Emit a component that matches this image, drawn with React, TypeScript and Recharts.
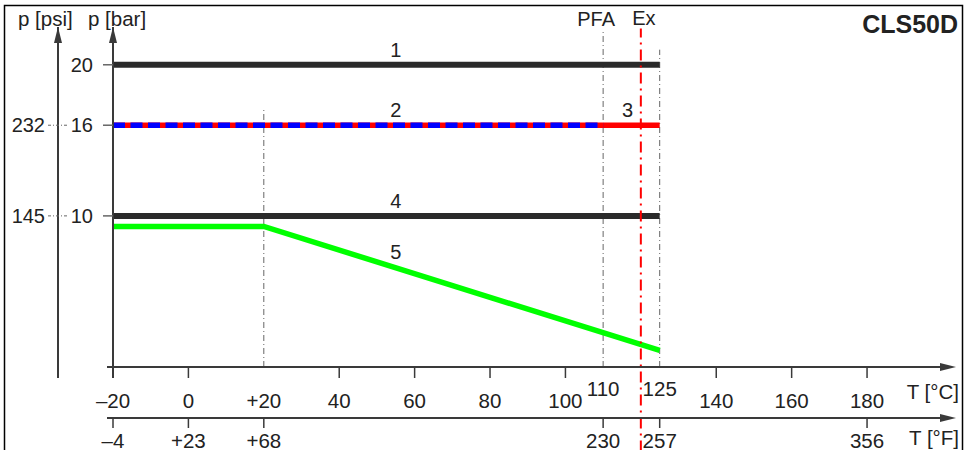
import React from "react";
import {
  ComposedChart,
  Line,
  XAxis,
  YAxis,
  ReferenceLine,
  ReferenceDot,
  Customized,
} from "recharts";

// temperature axis (°C) and matching °F labels
const C_TICKS = [-20, 0, 20, 40, 60, 80, 100, 110, 125, 140, 160, 180];
const C_LABELS = ["–20", "0", "+20", "40", "60", "80", "100", "110", "125", "140", "160", "180"];
const F_TICKS = [-20, 0, 20, 110, 125, 180];
const F_LABELS = ["–4", "+23", "+68", "230", "257", "356"];

// pressure axes
const BAR_TICKS = [10, 16, 20];
const PSI_TICKS = [10, 16];
const PSI_LABELS = ["145", "232"];

// curves: temperature [°C] / pressure [bar]
const line1T = [-20, 125];
const line1P = [20, 20];
const line2T = [-20, 110];
const line2P = [16, 16];
const line3T = [-20, 125];
const line3P = [16, 16];
const line4T = [-20, 125];
const line4P = [10, 10];
const line5T = [-20, 20, 125];
const line5P = [9.3, 9.3, 1.1];

const toRows = (t: number[], p: number[]) => t.map((v, i) => ({ t: v, p: p[i] }));

const FONT = "'Liberation Sans', Arial, sans-serif";
const TEXT = "#222";
const AXIS = "#3a3a3a";
const GUIDE = "#666";
const BLACK = "#2a2a2a";

const W = 966;
const H = 450;
const PLOT_LEFT = 113;
const PLOT_RIGHT = 950;
const PLOT_TOP = 27;
const C_AXIS_Y = 367;
const F_AXIS_Y = 418;
const PSI_X = 58;

const RAISED = [110, 125];
const NO_TICK = [20, 110, 125];

function CTick({ x, y, payload }: any) {
  const v = payload.value;
  const i = C_TICKS.indexOf(v);
  const raised = RAISED.includes(v);
  return (
    <g>
      {!NO_TICK.includes(v) && (
        <line x1={x} x2={x} y1={y} y2={y + 11} stroke={AXIS} strokeWidth={1.5} />
      )}
      <text x={x} y={raised ? y + 29 : y + 41} textAnchor="middle" fontSize={20.5} fill={TEXT} fontFamily={FONT}>
        {C_LABELS[i]}
      </text>
    </g>
  );
}

function FTick({ x, y, payload }: any) {
  const i = F_TICKS.indexOf(payload.value);
  return (
    <g>
      <line x1={x} x2={x} y1={y} y2={y + 10} stroke={AXIS} strokeWidth={1.5} />
      <text x={x} y={y + 30} textAnchor="middle" fontSize={20.5} fill={TEXT} fontFamily={FONT}>
        {F_LABELS[i]}
      </text>
    </g>
  );
}

function BarTick({ x, y, payload }: any) {
  return (
    <g>
      <line x1={x - 10} x2={x} y1={y} y2={y} stroke={GUIDE} strokeWidth={1.5} />
      <text x={x - 20} y={y + 7} textAnchor="end" fontSize={20} fill={TEXT} fontFamily={FONT}>
        {payload.value}
      </text>
    </g>
  );
}

function PsiTick({ x, y, payload }: any) {
  const i = PSI_TICKS.indexOf(payload.value);
  return (
    <g>
      <line x1={x - 10} x2={x + 10} y1={y} y2={y} stroke={GUIDE} strokeWidth={1} strokeDasharray="3 2 1 2" />
      <text x={x - 13} y={y + 7} textAnchor="end" fontSize={20} fill={TEXT} fontFamily={FONT}>
        {PSI_LABELS[i]}
      </text>
    </g>
  );
}

function Decor() {
  const txt = { fontSize: 20.5, fill: TEXT, fontFamily: FONT };
  return (
    <g>
      <rect x={4.5} y={5.5} width={958} height={470} fill="none" stroke="#000" strokeWidth={1.5} />
      {/* axis extensions and arrows */}
      <line x1={107} x2={PLOT_LEFT} y1={C_AXIS_Y} y2={C_AXIS_Y} stroke={AXIS} strokeWidth={2} />
      <line x1={107} x2={PLOT_LEFT} y1={F_AXIS_Y} y2={F_AXIS_Y} stroke={AXIS} strokeWidth={2} />
      <line x1={PLOT_LEFT} x2={PLOT_LEFT} y1={C_AXIS_Y} y2={378} stroke={AXIS} strokeWidth={2} />
      <line x1={PSI_X} x2={PSI_X} y1={C_AXIS_Y} y2={378} stroke={AXIS} strokeWidth={2} />
      <polygon points={`${PLOT_LEFT},${PLOT_TOP} ${PLOT_LEFT - 4},${PLOT_TOP + 16} ${PLOT_LEFT + 4},${PLOT_TOP + 16}`} fill={AXIS} />
      <polygon points={`${PSI_X},${PLOT_TOP} ${PSI_X - 4},${PLOT_TOP + 16} ${PSI_X + 4},${PLOT_TOP + 16}`} fill={AXIS} />
      <polygon points={`${PLOT_RIGHT + 6},${C_AXIS_Y} ${PLOT_RIGHT - 10},${C_AXIS_Y - 4} ${PLOT_RIGHT - 10},${C_AXIS_Y + 4}`} fill={AXIS} />
      <polygon points={`${PLOT_RIGHT + 6},${F_AXIS_Y} ${PLOT_RIGHT - 10},${F_AXIS_Y - 4} ${PLOT_RIGHT - 10},${F_AXIS_Y + 4}`} fill={AXIS} />
      <text x={18} y={26} {...txt}>p [psi]</text>
      <text x={88} y={26} {...txt}>p [bar]</text>
      <text x={959} y={399} textAnchor="end" {...txt}>T [°C]</text>
      <text x={959} y={445} textAnchor="end" {...txt}>T [°F]</text>
      <text x={958} y={33} textAnchor="end" fontSize={25} fontWeight="bold" fill={TEXT} fontFamily={FONT}>
        CLS50D
      </text>
    </g>
  );
}

const labelStyle = { fontSize: 20, fill: TEXT, fontFamily: FONT };

export default function App() {
  return (
    <div style={{ position: "absolute", left: 0, top: 0, width: W, height: H, background: "#fff" }}>
      <ComposedChart
        width={W}
        height={H}
        margin={{ top: PLOT_TOP, right: W - PLOT_RIGHT, bottom: 0, left: 0 }}
      >
        <XAxis
          xAxisId="c"
          type="number"
          dataKey="t"
          domain={[-20, 202]}
          ticks={C_TICKS}
          interval={0}
          tick={<CTick />}
          tickLine={false}
          tickSize={0}
          tickMargin={0}
          height={51}
          axisLine={{ stroke: AXIS, strokeWidth: 2 }}
          allowDataOverflow
        />
        <XAxis
          xAxisId="f"
          type="number"
          dataKey="t"
          domain={[-20, 202]}
          ticks={F_TICKS}
          interval={0}
          tick={<FTick />}
          tickLine={false}
          tickSize={0}
          tickMargin={0}
          height={32}
          axisLine={{ stroke: AXIS, strokeWidth: 2 }}
          allowDataOverflow
        />
        <YAxis
          yAxisId="bar"
          type="number"
          domain={[0, 22.5]}
          ticks={BAR_TICKS}
          interval={0}
          tick={<BarTick />}
          tickLine={false}
          tickSize={0}
          tickMargin={0}
          width={55}
          axisLine={{ stroke: AXIS, strokeWidth: 2 }}
          allowDataOverflow
        />
        <YAxis
          yAxisId="psi"
          type="number"
          domain={[0, 22.5]}
          ticks={PSI_TICKS}
          interval={0}
          tick={<PsiTick />}
          tickLine={false}
          tickSize={0}
          tickMargin={0}
          width={58}
          axisLine={{ stroke: AXIS, strokeWidth: 2 }}
          allowDataOverflow
        />

        <ReferenceLine
          xAxisId="c"
          yAxisId="bar"
          segment={[{ x: 20, y: 0 }, { x: 20, y: 17.1 }]}
          stroke={GUIDE}
          strokeWidth={1}
          strokeDasharray="6 3 1 3"
        />
        <ReferenceLine
          xAxisId="c"
          yAxisId="bar"
          segment={[{ x: 110, y: 0 }, { x: 110, y: 22.3 }]}
          stroke={GUIDE}
          strokeWidth={1}
          strokeDasharray="6 3 1 3"
          label={{ value: "PFA", position: "top", offset: 4, dx: -7, ...labelStyle }}
        />
        <ReferenceLine
          xAxisId="c"
          yAxisId="bar"
          segment={[{ x: 125, y: 0 }, { x: 125, y: 21 }]}
          stroke={GUIDE}
          strokeWidth={1}
          strokeDasharray="6 3 1 3"
        />

        <Line xAxisId="c" yAxisId="bar" data={toRows(line1T, line1P)} dataKey="p" stroke={BLACK} strokeWidth={6} dot={false} isAnimationActive={false} />
        <Line xAxisId="c" yAxisId="bar" data={toRows(line3T, line3P)} dataKey="p" stroke="#ff0000" strokeWidth={5.5} dot={false} isAnimationActive={false} />
        <Line xAxisId="c" yAxisId="bar" data={toRows(line2T, line2P)} dataKey="p" stroke="#0000ff" strokeWidth={5.5} strokeDasharray="12 5.5" dot={false} isAnimationActive={false} />
        <Line xAxisId="c" yAxisId="bar" data={toRows(line4T, line4P)} dataKey="p" stroke={BLACK} strokeWidth={6} dot={false} isAnimationActive={false} />
        <Line xAxisId="c" yAxisId="bar" data={toRows(line5T, line5P)} dataKey="p" stroke="#00ff00" strokeWidth={5.5} dot={false} isAnimationActive={false} />

        <ReferenceLine
          xAxisId="c"
          yAxisId="bar"
          segment={[{ x: 120, y: -5.6 }, { x: 120, y: 22.4 }]}
          ifOverflow="visible"
          stroke="#ff0000"
          strokeWidth={2}
          strokeDasharray="11 5 2 5"
          label={{ value: "Ex", position: "top", offset: 4, dx: 3, ...labelStyle }}
        />

        <ReferenceDot xAxisId="c" yAxisId="bar" x={55} y={20} r={0} label={{ value: "1", position: "top", offset: 8, ...labelStyle }} />
        <ReferenceDot xAxisId="c" yAxisId="bar" x={55} y={16} r={0} label={{ value: "2", position: "top", offset: 8, ...labelStyle }} />
        <ReferenceDot xAxisId="c" yAxisId="bar" x={116.5} y={16} r={0} label={{ value: "3", position: "top", offset: 8, ...labelStyle }} />
        <ReferenceDot xAxisId="c" yAxisId="bar" x={55} y={10} r={0} label={{ value: "4", position: "top", offset: 8, ...labelStyle }} />
        <ReferenceDot xAxisId="c" yAxisId="bar" x={55} y={6.6} r={0} label={{ value: "5", position: "top", offset: 8, ...labelStyle }} />

        <Customized component={<Decor />} />
      </ComposedChart>
    </div>
  );
}
